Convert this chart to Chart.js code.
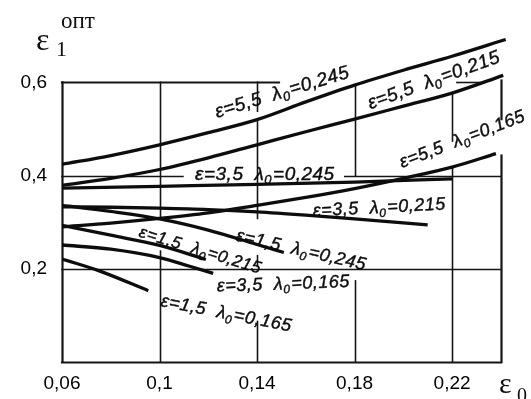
<!DOCTYPE html>
<html>
<head>
<meta charset="utf-8">
<script src="https://cdn.jsdelivr.net/npm/chart.js@4.4.1/dist/chart.umd.min.js"></script>
<style>
  html, body { margin: 0; padding: 0; background: #fff; }
  #wrap { width: 531px; height: 399px; }
</style>
</head>
<body>
<div id="wrap"><canvas id="c" width="531" height="399"></canvas></div>
<script>
// Axis ticks
const xTicks = [0.06, 0.10, 0.14, 0.18, 0.22];
const yTicks = [0.2, 0.4, 0.6];

// Curve parameters (ε and λ0) as printed next to each curve
const epsText = ['5,5', '5,5', '3,5', '5,5', '3,5', '1,5', '1,5', '3,5', '1,5'];
const lamText = ['0,245', '0,215', '0,245', '0,165', '0,215', '0,245', '0,215', '0,165', '0,165'];

// ε0 (x) and optimal ε1 (y) for each curve
const e55l245X = [0.06, 0.08, 0.10, 0.12, 0.14, 0.16, 0.18, 0.20, 0.22, 0.242];
const e55l245Y = [0.424, 0.443, 0.466, 0.492, 0.520, 0.558, 0.594, 0.626, 0.656, 0.692];

const e55l215X = [0.06, 0.08, 0.10, 0.12, 0.14, 0.16, 0.18, 0.20, 0.22, 0.241];
const e55l215Y = [0.379, 0.394, 0.413, 0.438, 0.466, 0.494, 0.521, 0.549, 0.577, 0.615];

const e35l245X = [0.06, 0.10, 0.14, 0.18, 0.22];
const e35l245Y = [0.373, 0.377, 0.381, 0.386, 0.393];

const e55l165X = [0.06, 0.08, 0.10, 0.12, 0.14, 0.16, 0.18, 0.20, 0.22, 0.238];
const e55l165Y = [0.290, 0.298, 0.308, 0.320, 0.336, 0.353, 0.372, 0.394, 0.418, 0.447];

const e35l215X = [0.06, 0.08, 0.10, 0.12, 0.14, 0.16, 0.18, 0.21];
const e35l215Y = [0.333, 0.332, 0.330, 0.327, 0.322, 0.315, 0.307, 0.294];

const e15l245X = [0.06, 0.08, 0.10, 0.12, 0.14, 0.151];
const e15l245Y = [0.336, 0.323, 0.307, 0.283, 0.252, 0.235];

const e15l215X = [0.06, 0.08, 0.10, 0.119];
const e15l215Y = [0.293, 0.272, 0.250, 0.220];

const e35l165X = [0.06, 0.08, 0.10, 0.112, 0.122];
const e35l165Y = [0.251, 0.242, 0.224, 0.206, 0.190];

const e15l165X = [0.06, 0.075, 0.0954];
const e15l165Y = [0.221, 0.196, 0.153];

const curveX = [e55l245X, e55l215X, e35l245X, e55l165X, e35l215X, e15l245X, e15l215X, e35l165X, e15l165X];
const curveY = [e55l245Y, e55l215Y, e35l245Y, e55l165Y, e35l215Y, e15l245Y, e15l215Y, e35l165Y, e15l165Y];

const datasets = curveX.map((xs, i) => ({
  label: 'ε=' + epsText[i] + ' λ0=' + lamText[i],
  data: xs.map((x, j) => ({ x: x, y: curveY[i][j] })),
  borderColor: '#0d0d0d',
  borderWidth: 3.3,
  pointRadius: 0,
  fill: false,
  cubicInterpolationMode: 'monotone'
}));

const fmt = v => String(v).replace('.', ',');

// Frame and grid pieces: vertical [x, yFrom, yTo, width], horizontal [y, xFrom, xTo, width]
const frameGrid = {
  id: 'frameGrid',
  beforeDatasetsDraw(chart) {
    const { ctx, scales: { x, y } } = chart;
    const vert = [
      [0.06, 0, 0.6, 2.2],
      [0.10, 0, 0.238, 1.6], [0.10, 0.308, 0.6, 1.6],
      [0.14, 0, 0.087, 1.6], [0.14, 0.205, 0.228, 1.6], [0.14, 0.308, 0.515, 1.6], [0.14, 0.538, 0.6, 1.6],
      [0.18, 0, 0.174, 1.6], [0.18, 0.4, 0.594, 1.6],
      [0.22, 0, 0.418, 1.6], [0.22, 0.474, 0.577, 1.6],
      [0.24, 0, 0.443, 2.2], [0.24, 0.521, 0.604, 2.2]
    ];
    const horiz = [
      [0, 0.06, 0.24, 2.2],
      [0.2, 0.06, 0.24, 1.6],
      [0.4, 0.06, 0.1096, 1.6], [0.4, 0.176, 0.24, 1.6],
      [0.6, 0.06, 0.149, 2.2], [0.6, 0.222, 0.2315, 1.6]
    ];
    ctx.save();
    ctx.strokeStyle = '#151515';
    ctx.lineCap = 'square';
    vert.forEach(([xv, y1, y2, w]) => {
      const px = Math.round(x.getPixelForValue(xv)) + 0.5;
      ctx.lineWidth = w;
      ctx.beginPath();
      ctx.moveTo(px, y.getPixelForValue(y1));
      ctx.lineTo(px, y.getPixelForValue(y2));
      ctx.stroke();
    });
    horiz.forEach(([yv, x1, x2, w]) => {
      const py = Math.round(y.getPixelForValue(yv)) + 0.5;
      ctx.lineWidth = w;
      ctx.beginPath();
      ctx.moveTo(x.getPixelForValue(x1), py);
      ctx.lineTo(x.getPixelForValue(x2), py);
      ctx.stroke();
    });
    ctx.restore();
  }
};

// Curve captions: anchor (data units, baseline start), tilt in degrees, font size
const captionPlacement = [
  { x: 0.1236, y: 0.5235, a: -17, s: 19 },
  { x: 0.1864, y: 0.542, a: -20, s: 19 },
  { x: 0.1146, y: 0.391, a: 0, s: 19 },
  { x: 0.1995, y: 0.416, a: -21, s: 18 },
  { x: 0.163, y: 0.3124, a: -3, s: 18 },
  { x: 0.131, y: 0.2607, a: 13, s: 18 },
  { x: 0.0912, y: 0.269, a: 17, s: 17 },
  { x: 0.1236, y: 0.151, a: -2, s: 18 },
  { x: 0.1002, y: 0.12, a: 11, s: 18 }
];

const captions = {
  id: 'captions',
  afterDatasetsDraw(chart) {
    const { ctx, scales: { x, y } } = chart;
    ctx.save();
    ctx.fillStyle = '#0d0d0d';
    ctx.strokeStyle = '#0d0d0d';
    ctx.lineWidth = 0.4;
    ctx.textBaseline = 'alphabetic';
    captionPlacement.forEach((p, i) => {
      const main = 'italic ' + p.s + 'px "Liberation Sans", Arial, sans-serif';
      const sub = 'italic ' + Math.round(p.s * 0.68) + 'px "Liberation Sans", Arial, sans-serif';
      const put = (t, cx, cy) => { ctx.fillText(t, cx, cy); ctx.strokeText(t, cx, cy); };
      ctx.save();
      ctx.translate(x.getPixelForValue(p.x), y.getPixelForValue(p.y));
      ctx.rotate(p.a * Math.PI / 180);
      ctx.letterSpacing = '0.5px';
      ctx.font = main;
      let cx = 0;
      const t1 = 'ε=' + epsText[i];
      put(t1, cx, 0);
      cx += ctx.measureText(t1).width + 11;
      put('λ', cx, 0);
      cx += ctx.measureText('λ').width;
      ctx.font = sub;
      put('0', cx, 4);
      cx += ctx.measureText('0').width + 1;
      ctx.font = main;
      put('=' + lamText[i], cx, 0);
      ctx.restore();
    });

    // axis names
    ctx.font = '32px "Liberation Serif", "Times New Roman", serif';
    ctx.fillText('ε', 36, 50);
    ctx.font = '22px "Liberation Serif", "Times New Roman", serif';
    ctx.fillText('1', 56, 56);
    ctx.font = '23px "Liberation Serif", "Times New Roman", serif';
    ctx.fillText('опт', 61, 28);
    ctx.font = '30px "Liberation Serif", "Times New Roman", serif';
    ctx.fillText('ε', 499, 393);
    ctx.font = '20px "Liberation Serif", "Times New Roman", serif';
    ctx.fillText('0', 517, 402);
    ctx.restore();
  }
};

new Chart(document.getElementById('c'), {
  type: 'line',
  data: { datasets: datasets },
  options: {
    responsive: false,
    animation: false,
    devicePixelRatio: 1,
    layout: { padding: { top: 14, right: 18, left: 0, bottom: 0 } },
    plugins: { legend: { display: false }, tooltip: { enabled: false } },
    scales: {
      x: {
        type: 'linear', min: 0.06, max: 0.245,
        grid: { display: false, drawTicks: false },
        border: { display: false },
        afterBuildTicks: s => { s.ticks = xTicks.map(v => ({ value: v })); },
        afterFit: s => { s.height = 37; },
        ticks: {
          padding: 10, color: '#000', autoSkip: false, maxRotation: 0,
          font: { family: '"Liberation Sans", Arial, sans-serif', size: 19 },
          callback: v => fmt(v)
        }
      },
      y: {
        type: 'linear', min: 0, max: 0.72,
        grid: { display: false, drawTicks: false },
        border: { display: false },
        afterBuildTicks: s => { s.ticks = yTicks.map(v => ({ value: v })); },
        afterFit: s => { s.width = 62; },
        ticks: {
          padding: 15, color: '#000',
          font: { family: '"Liberation Sans", Arial, sans-serif', size: 19 },
          callback: v => fmt(v)
        }
      }
    }
  },
  plugins: [frameGrid, captions]
});
</script>
</body>
</html>
